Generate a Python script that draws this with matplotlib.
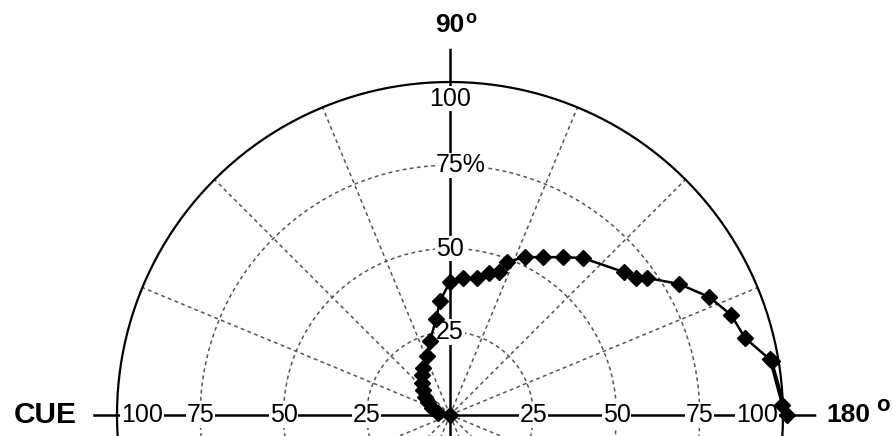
import numpy as np
import matplotlib.pyplot as plt

plt.rcParams['font.family'] = ['Liberation Sans', 'DejaVu Sans']

# direction measured from the cue side (deg) and response (%)
angle = [0.0, 9.5, 21.3, 30.6, 35.8, 42.8, 48.8, 55.0, 60.1, 68.7, 74.9,
         81.7, 85.0, 90.0, 95.4, 101.1, 105.4, 108.9, 110.4, 115.4, 120.5,
         125.6, 130.3, 140.6, 143.6, 145.2, 150.2, 155.5, 160.4, 165.4,
         170.5, 180.0, 178.3, 170.0]
resp = [0.0, 3.7, 5.8, 7.7, 9.2, 11.1, 12.8, 14.7, 16.3, 19.0, 23.0,
        29.1, 34.4, 40.0, 41.3, 41.9, 44.2, 45.4, 49.0, 52.5, 55.0,
        58.3, 61.8, 67.6, 69.4, 72.1, 79.2, 85.5, 89.6, 91.6,
        98.0, 101.2, 99.8, 97.5]

rings = [25, 50, 75]
ring_labels = ['25', '50', '75']
spokes = np.arange(0, 360, 22.5)

fig = plt.figure(figsize=(8.93, 4.36), dpi=100)
rmax = 110
px = 3.33  # pixels per percent
w = 2 * rmax * px
ax = fig.add_axes([(450 - w / 2) / 893, (21 - w / 2) / 436, w / 893, w / 436],
                  projection='polar')
ax.set_theta_zero_location('W')
ax.set_theta_direction(-1)
ax.set_rlim(0, rmax)
ax.set_axis_off()

th = np.linspace(0, 2 * np.pi, 400)
grid_kw = dict(color='#555555', lw=1.1, dashes=(2.5, 2.2), zorder=1)
for r in rings:
    ax.plot(th, np.full_like(th, r), **grid_kw)
for s in spokes:
    if s % 90:
        ax.plot([np.deg2rad(s)] * 2, [0, 100], **grid_kw)
ax.plot(th, np.full_like(th, 100), color='black', lw=1.6, zorder=2)

# axis lines
ax.plot([0, 0], [0, 107], color='black', lw=1.8, zorder=2)
ax.plot([np.pi, np.pi], [0, 110], color='black', lw=1.8, zorder=2)
ax.plot([np.pi / 2] * 2, [0, 110], color='black', lw=1.8, zorder=2)
ax.plot([3 * np.pi / 2] * 2, [0, 110], color='black', lw=1.8, zorder=2)

# data
ax.plot(np.deg2rad(angle), resp, color='black', lw=1.8, marker='D',
        ms=8.5, zorder=5)

box = dict(facecolor='white', edgecolor='none', pad=0.5)
lab_kw = dict(fontsize=18, ha='center', va='center', zorder=4, bbox=box)
for r, t in zip(rings, ring_labels):
    ax.text(0, r, t, **lab_kw)
    ax.text(np.pi, r, t, **lab_kw)
    if r != 75:
        ax.text(np.pi / 2, r, t, **lab_kw)
ax.annotate('75%', xy=(np.pi / 2, 75), xytext=(-10, 0), textcoords='offset points',
            fontsize=18, ha='left', va='center', zorder=4, bbox=box,
            annotation_clip=False)
ax.text(0, 92.5, '100', **lab_kw)
ax.text(np.pi, 92.2, '100', **lab_kw)
ax.text(np.pi / 2, 95.0, '100', **lab_kw)

ax.text(0, 121.6, 'CUE', fontsize=21.5, fontweight='bold', ha='center', va='center')
ax.text(np.pi, 119.5, '180', fontsize=19, fontweight='bold', ha='center', va='center')
ax.annotate('o', xy=(np.pi, 119.5), xytext=(20.5, 6.5), textcoords='offset points',
            fontsize=16, fontweight='bold', ha='left', va='center',
            annotation_clip=False)
ax.text(np.pi / 2, 117.1, '90', fontsize=19, fontweight='bold', ha='center', va='center')
ax.annotate('o', xy=(np.pi / 2, 117.1), xytext=(11, 5), textcoords='offset points',
            fontsize=13, fontweight='bold', ha='left', va='center',
            annotation_clip=False)

fig.savefig('out.png', dpi=100)
